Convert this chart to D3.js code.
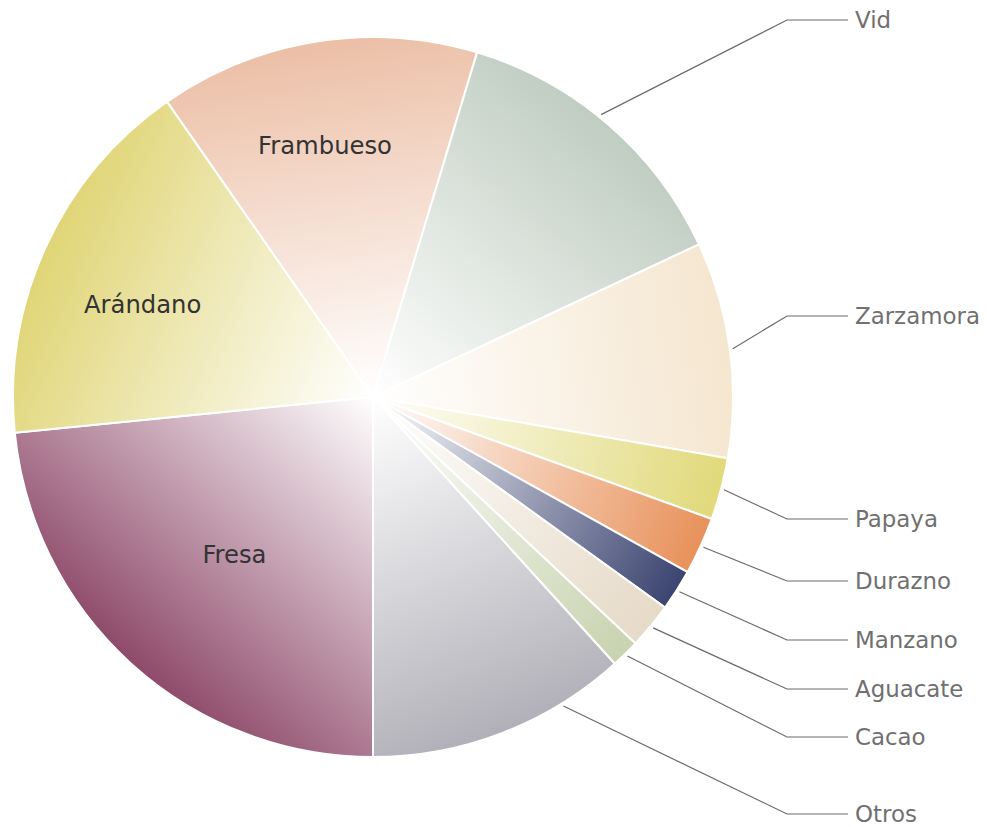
<!DOCTYPE html>
<html><head><meta charset="utf-8">
<script src="https://cdn.jsdelivr.net/npm/d3@7"></script>
<style>html,body{margin:0;padding:0;background:#fff;}svg{display:block;}</style>
</head><body>
<svg id="chart" width="987" height="827"></svg>
<script>
const categories = ["Fresa","Arándano","Frambueso","Vid","Zarzamora","Papaya","Durazno","Manzano","Aguacate","Cacao","Otros"];
const values = [23.42,16.89,14.36,13.36,9.69,2.78,2.58,1.86,2.06,1.28,11.72];
const colors = ["#8e4a6a","#e0d576","#ecbfa6","#c0cdc1","#f5e6cf","#e1d97a","#e8915a","#3b4470","#e6dac8","#c8d3b0","#b1b0b8"];
const insideLabels = ["Fresa","Arándano","Frambueso"];
const calloutLabels = ["Vid","Zarzamora","Papaya","Durazno","Manzano","Aguacate","Cacao","Otros"];

// layout (not data)
const W = 987, H = 827, cx = 373, cy = 397, R = 360;
const insideRadius = {"Fresa":0.583,"Arándano":0.69,"Frambueso":0.712};
const insideFrac = {"Fresa":0.49,"Arándano":0.455,"Frambueso":0.466};
const calloutY = {"Vid":20,"Zarzamora":316,"Papaya":519,"Durazno":581,"Manzano":640,"Aguacate":689,"Cacao":737,"Otros":814};
const anchorFrac = {"Vid":0.46,"Otros":0.25};
const elbowX = 787, lineEndX = 848, textX = 855;

const svg = d3.select("#chart");
const defs = svg.append("defs");
const g = svg.append("g").attr("transform", `translate(${cx},${cy})`);

const data = categories.map((c,i)=>({name:c, value:values[i], color:colors[i]}));
const pie = d3.pie().sort(null).value(d=>d.value).startAngle(Math.PI).endAngle(3*Math.PI);
const arcs = pie(data);
const arc = d3.arc().innerRadius(0).outerRadius(R);

arcs.forEach((a,i)=>{
  const mid = (a.startAngle + a.endAngle)/2;
  const lg = defs.append("linearGradient").attr("id","grad"+i)
    .attr("gradientUnits","userSpaceOnUse")
    .attr("x1",0).attr("y1",0)
    .attr("x2",R*Math.sin(mid)).attr("y2",-R*Math.cos(mid));
  lg.append("stop").attr("offset","0%").attr("stop-color","#ffffff");
  lg.append("stop").attr("offset","100%").attr("stop-color",a.data.color);
});

g.selectAll("path.slice").data(arcs).join("path")
  .attr("class","slice")
  .attr("d",arc)
  .attr("fill",(d,i)=>`url(#grad${i})`)
  .attr("stroke","#fff").attr("stroke-width",2).attr("stroke-linejoin","round");

const font = "'DejaVu Sans', sans-serif";

// inside labels
const angAt = (d,f)=> d.startAngle + (d.endAngle-d.startAngle)*f;
const inside = g.selectAll("text.inside").data(arcs.filter(a=>insideLabels.includes(a.data.name))).join("text")
  .attr("class","inside")
  .attr("x",d=>{const m=angAt(d,insideFrac[d.data.name]); return R*insideRadius[d.data.name]*Math.sin(m);})
  .attr("y",d=>{const m=angAt(d,insideFrac[d.data.name]); return -R*insideRadius[d.data.name]*Math.cos(m);})
  .attr("text-anchor","middle").attr("dominant-baseline","central")
  .attr("font-family",font).attr("font-weight",400).attr("font-size",20)
  .attr("fill","#333333")
  .text(d=>d.data.name);

// callouts
const cdata = arcs.filter(a=>calloutLabels.includes(a.data.name));
const anchorR = R + 3;
const cg = svg.append("g");
cdata.forEach(d=>{
  const f = anchorFrac[d.data.name] ?? 0.5;
  const ang = angAt(d,f);
  const ax = cx + anchorR*Math.sin(ang), ay = cy - anchorR*Math.cos(ang);
  const y = calloutY[d.data.name];
  cg.append("polyline").attr("points",`${ax},${ay} ${elbowX},${y} ${lineEndX},${y}`)
    .attr("fill","none").attr("stroke","#6b6b6b").attr("stroke-width",1.2);
  cg.append("text").attr("class","callout").attr("x",textX).attr("y",y)
    .attr("dominant-baseline","central")
    .attr("font-family",font).attr("font-weight",400).attr("font-size",20)
    .attr("fill","#707070").text(d.data.name);
});

// size fonts to match reference widths
const zz = cg.selectAll("text.callout").filter(function(){return this.textContent==="Zarzamora";}).node();
const s1 = 20*125/zz.getComputedTextLength();
cg.selectAll("text.callout").attr("font-size",s1);
const fr = inside.filter(d=>d.data.name==="Frambueso").node();
const s2 = 20*134/fr.getComputedTextLength();
inside.attr("font-size",s2);
</script>
</body></html>
